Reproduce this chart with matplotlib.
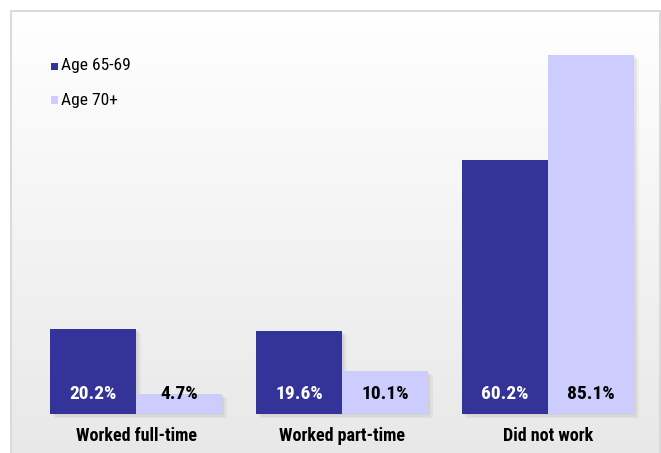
import matplotlib
matplotlib.use("Agg")
import matplotlib.pyplot as plt
import numpy as np
from matplotlib.patches import Rectangle

categories = ["Worked full-time", "Worked part-time", "Did not work"]
series_names = ["Age 65-69", "Age 70+"]
age_65_69 = [20.2, 19.6, 60.2]
age_70_plus = [4.7, 10.1, 85.1]
colors = ["#333399", "#CCCCFF"]

FONT = ["Roboto Condensed", "Liberation Sans", "DejaVu Sans"]

W, H = 661, 453
fig = plt.figure(figsize=(W / 100, H / 100), dpi=100)
ax = fig.add_axes([0, 0, 1, 1])

# pixel mapping
px_per_unit = 4.22
base_px = 414
y_top = base_px / px_per_unit
y_bot = -(H - base_px) / px_per_unit
grp_px = 206.0
c0_px = 136.0
x_left = -c0_px / grp_px
x_right = (W - c0_px) / grp_px
ax.set_xlim(x_left, x_right)
ax.set_ylim(y_bot, y_top)
ax.axis("off")

def px2x(p):
    return x_left + p / W * (x_right - x_left)

def py2y(p):
    return y_top - p / H * (y_top - y_bot)

# gradient background panel with border
x0, x1 = px2x(11), px2x(659.5)
yt, yb = py2y(11), py2y(H + 2)
grad = np.linspace(1.0, 0.91, 256).reshape(-1, 1)
grad = np.dstack([grad, grad, grad])
ax.imshow(grad, extent=[x0, x1, yb, yt], aspect="auto", zorder=0, interpolation="bilinear")
ax.add_patch(Rectangle((x0, yb), x1 - x0, yt - yb, fill=False, edgecolor="#d4d4d4", lw=1.2, zorder=1))

x = np.arange(len(categories))
bw = 86 / grp_px

# subtle shadows
for k in range(3):
    for xs, vals in [(x - bw / 2, age_65_69), (x + bw / 2, age_70_plus)]:
        ax.bar(xs + 0.008 * (k + 1), vals, width=bw, bottom=-0.3 * (k + 1), color="#000000",
               alpha=0.035, zorder=2, lw=0)

ax.bar(x - bw / 2, age_65_69, width=bw, color=colors[0], zorder=3, lw=0)
ax.bar(x + bw / 2, age_70_plus, width=bw, color=colors[1], zorder=3, lw=0)

lab_y = py2y(394)
for i in range(len(categories)):
    ax.text(x[i] - bw / 2, lab_y, f"{age_65_69[i]:.1f}%", ha="center", va="center",
            color="white", fontsize=14, fontweight="bold", family=FONT, zorder=4)
    ax.text(x[i] + bw / 2, lab_y, f"{age_70_plus[i]:.1f}%", ha="center", va="center",
            color="black", fontsize=14, fontweight="bold", family=FONT, zorder=4)
    ax.text(x[i], py2y(436), categories[i], ha="center", va="center",
            color="black", fontsize=13, fontweight="bold", family=FONT, zorder=4)

# legend
for name, col, py in zip(series_names, colors, [66, 100]):
    ax.add_patch(Rectangle((px2x(51), py2y(py + 3.5)), px2x(58) - px2x(51), py2y(py - 3.5) - py2y(py + 3.5),
                           color=col, zorder=4, lw=0))
    ax.text(px2x(61.5), py2y(py), name, ha="left", va="center", fontsize=12.5,
            family=FONT, color="black", zorder=4)

fig.savefig("out.png", dpi=100)
